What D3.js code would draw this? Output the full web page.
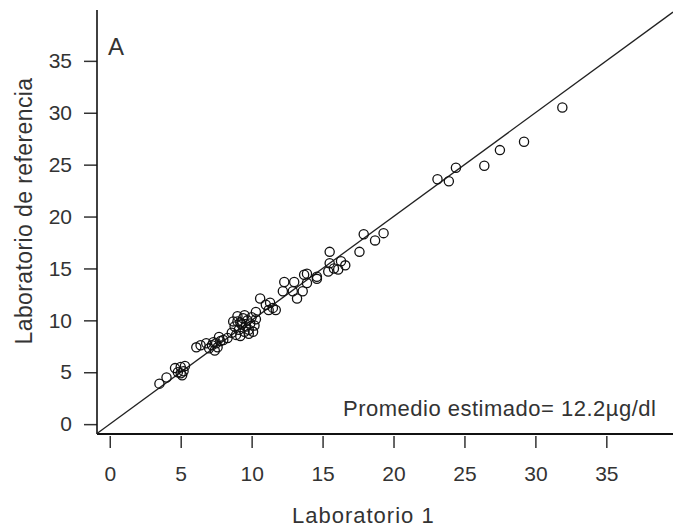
<!DOCTYPE html>
<html>
<head>
<meta charset="utf-8">
<script src="https://cdn.jsdelivr.net/npm/d3@7"></script>
<style>
  body { margin: 0; background: #fff; }
  svg text { font-family: "Liberation Sans", Arial, sans-serif; fill: #333; }
</style>
</head>
<body>
<div id="chart"></div>
<script>
// values
var lab1 = [3.5, 4.0, 4.6, 4.8, 5.0, 5.1, 5.2, 5.0, 5.3,
            6.1, 6.4, 6.8, 7.0, 7.2, 7.4, 7.5, 7.6, 7.8, 8.0, 7.3, 7.7,
            8.3, 8.6, 8.8, 8.9, 9.0, 9.1, 9.2, 9.3, 9.4, 9.5, 9.6, 9.7, 9.8, 9.9, 10.0, 10.1, 10.2, 9.0, 9.5, 8.7, 10.3, 9.2, 9.8,
            10.3, 10.6, 11.0, 11.2, 11.5, 11.7, 11.3,
            12.2, 12.3, 12.9, 13.0, 13.2, 13.6, 13.7, 13.9, 14.6, 13.9, 14.6,
            15.4, 15.5, 15.5, 16.1, 16.3, 16.6, 15.8, 17.6,
            17.9, 18.7, 19.3,
            23.1, 23.9, 24.4, 26.4, 27.5, 29.2, 31.9];
var labRef = [3.9, 4.5, 5.4, 5.0, 5.5, 4.7, 5.1, 4.9, 5.6,
              7.4, 7.6, 7.8, 7.3, 7.6, 7.1, 7.8, 7.4, 8.0, 8.1, 7.9, 8.4,
              8.3, 8.8, 9.4, 8.6, 9.9, 9.1, 8.5, 9.6, 10.2, 8.9, 9.4, 10.0, 9.1, 9.7, 10.3, 8.9, 9.5, 10.4, 10.5, 9.9, 10.1, 9.8, 8.7,
              10.8, 12.1, 11.5, 11.0, 11.2, 11.0, 11.7,
              12.8, 13.7, 12.8, 13.7, 12.1, 12.8, 14.4, 13.6, 14.2, 14.5, 14.0,
              14.7, 15.5, 16.6, 14.9, 15.7, 15.3, 15.0, 16.6,
              18.3, 17.7, 18.4,
              23.6, 23.4, 24.7, 24.9, 26.4, 27.2, 30.5];
var xTicks = [0, 5, 10, 15, 20, 25, 30, 35];
var yTicks = [0, 5, 10, 15, 20, 25, 30, 35];

var width = 673, height = 529;

var svg = d3.select("#chart").append("svg")
  .attr("width", width)
  .attr("height", height);

var x = d3.scaleLinear().domain([-0.9, 39.7]).range([97, 673]);
var y = d3.scaleLinear().domain([-0.95, 39.9]).range([434, 10]);

// x axis (ticks hang just under the axis line)
var xAxis = svg.append("g")
  .attr("transform", "translate(0,436)")
  .call(d3.axisBottom(x).tickValues(xTicks).tickSize(12).tickPadding(18).tickSizeOuter(0));
xAxis.select(".domain").remove();
svg.append("line")
  .attr("x1", 97).attr("x2", 673).attr("y1", 434).attr("y2", 434)
  .attr("stroke", "#111").attr("stroke-width", 2);

// y axis
var yAxis = svg.append("g")
  .attr("transform", "translate(97,0)")
  .call(d3.axisLeft(y).tickValues(yTicks).tickSize(13).tickPadding(12).tickSizeOuter(0));
yAxis.select(".domain").remove();
svg.append("line")
  .attr("x1", 97).attr("x2", 97).attr("y1", 10).attr("y2", 434)
  .attr("stroke", "#111").attr("stroke-width", 1.6);

svg.selectAll(".tick line").attr("stroke", "#333").attr("stroke-width", 1.5);
svg.selectAll(".tick text").attr("font-size", 21).attr("fill", "#333")
  .attr("font-family", "Liberation Sans, Arial, sans-serif");

// identity line
svg.append("line")
  .attr("x1", x(-0.9)).attr("y1", y(-0.9))
  .attr("x2", x(39.7)).attr("y2", y(39.7))
  .attr("stroke", "#222").attr("stroke-width", 1.3);

// points
svg.append("g")
  .selectAll("circle")
  .data(lab1)
  .enter()
  .append("circle")
  .attr("cx", function(d) { return x(d); })
  .attr("cy", function(d, i) { return y(labRef[i]); })
  .attr("r", 4.6)
  .attr("fill", "none")
  .attr("stroke", "#111")
  .attr("stroke-width", 1.3);

// labels
svg.append("text")
  .attr("x", 108).attr("y", 55)
  .attr("font-size", 24)
  .text("A");

svg.append("text")
  .attr("x", 343).attr("y", 416)
  .attr("font-size", 22)
  .attr("letter-spacing", 0.5)
  .text("Promedio estimado= 12.2\u00b5g/dl");

svg.append("text")
  .attr("x", 292).attr("y", 523)
  .attr("font-size", 22)
  .attr("letter-spacing", 1)
  .text("Laboratorio 1");

svg.append("text")
  .attr("transform", "translate(32,211) rotate(-90)")
  .attr("text-anchor", "middle")
  .attr("font-size", 23)
  .attr("letter-spacing", 0.4)
  .text("Laboratorio de referencia");
</script>
</body>
</html>
